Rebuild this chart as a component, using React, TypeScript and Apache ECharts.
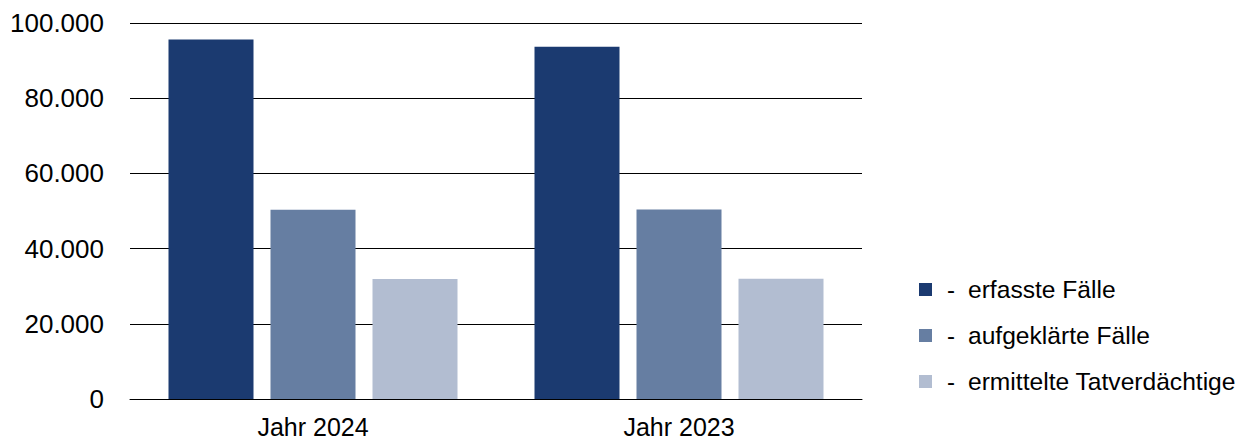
import React, { useEffect, useRef } from "react";
import * as echarts from "echarts";

const categories = ["Jahr 2024", "Jahr 2023"];
const seriesNames = ["erfasste Fälle", "aufgeklärte Fälle", "ermittelte Tatverdächtige"];
const erfassteFaelle = [95600, 93700];
const aufgeklaerteFaelle = [50300, 50400];
const ermittelteTatverdaechtige = [31900, 32000];
const seriesColors = ["#1b3a70", "#667ea2", "#b2bdd1"];
const yTicks = { min: 0, max: 100000, interval: 20000 };

const fmt = (v: number) => String(Math.round(v)).replace(/\B(?=(\d{3})+(?!\d))/g, ".");

export default function App() {
  const ref = useRef<HTMLDivElement>(null);
  useEffect(() => {
    if (!ref.current) return;
    const chart = echarts.init(ref.current, undefined, { renderer: "svg" });
    const values = [erfassteFaelle, aufgeklaerteFaelle, ermittelteTatverdaechtige];
    chart.setOption({
      animation: false,
      textStyle: { fontFamily: "Liberation Sans, Arial, sans-serif" },
      grid: { left: 130, right: 384, top: 23, bottom: 42, containLabel: false },
      xAxis: {
        type: "category",
        data: categories,
        axisLine: { show: true, lineStyle: { color: "#000", width: 1 } },
        axisTick: { show: false },
        axisLabel: { color: "#000", fontSize: 25, lineHeight: 25, margin: 15 },
      },
      yAxis: {
        type: "value",
        min: yTicks.min,
        max: yTicks.max,
        interval: yTicks.interval,
        axisLine: { show: false },
        axisTick: { show: false },
        splitLine: { show: true, lineStyle: { color: "#000", width: 1 } },
        axisLabel: { color: "#000", fontSize: 26, margin: 26, formatter: (v: number) => fmt(v) },
      },
      legend: {
        orient: "vertical",
        left: 914,
        top: 272,
        itemWidth: 13,
        itemHeight: 13,
        itemGap: 21,
        icon: "rect",
        data: seriesNames,
        formatter: (name: string) => `{d|-}{n|${name}}`,
        textStyle: {
          color: "#000",
          fontSize: 24,
          rich: {
            d: { fontSize: 24, width: 21, padding: [0, 0, 0, 10], color: "#000" },
            n: { fontSize: 24.6, color: "#000" },
          },
        },
      },
      series: seriesNames.map((name, i) => ({
        name,
        type: "bar",
        data: values[i],
        barWidth: 85,
        barGap: "20%",
        itemStyle: { color: seriesColors[i] },
      })),
    });
    return () => chart.dispose();
  }, []);
  return <div ref={ref} style={{ width: 1246, height: 441, position: "absolute", left: 0, top: 0 }} />;
}
